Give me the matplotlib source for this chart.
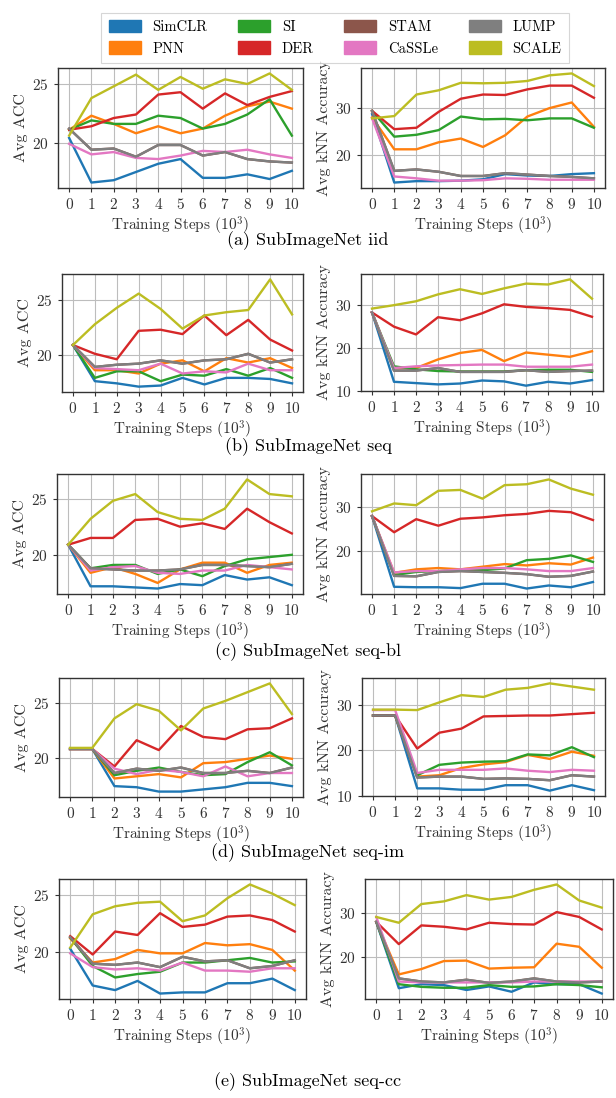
import matplotlib
matplotlib.use("Agg")
import matplotlib.pyplot as plt
from matplotlib.patches import Patch
from matplotlib.ticker import MultipleLocator

plt.rcParams["font.family"] = "serif"
plt.rcParams["font.serif"] = ["cmr10"]
plt.rcParams["mathtext.fontset"] = "cm"
plt.rcParams["axes.unicode_minus"] = False
plt.rcParams["axes.formatter.use_mathtext"] = True

steps = list(range(11))
methods = ["SimCLR", "PNN", "SI", "DER", "STAM", "CaSSLe", "LUMP", "SCALE"]
colors = ["#1f77b4", "#ff7f0e", "#2ca02c", "#d62728",
          "#8c564b", "#e377c2", "#7f7f7f", "#bcbd22"]
captions = ["(a) SubImageNet iid", "(b) SubImageNet seq", "(c) SubImageNet seq-bl",
            "(d) SubImageNet seq-im", "(e) SubImageNet seq-cc"]

# STAM is not visible in the figure (hidden under LUMP), so it reuses LUMP's values
iid_acc = {
    "SimCLR": [20.4, 16.6, 16.8, 17.5, 18.2, 18.6, 17.0, 17.0, 17.3, 16.9, 17.6],
    "PNN":    [21.1, 22.3, 21.6, 20.8, 21.4, 20.8, 21.2, 22.3, 23.1, 23.5, 22.9],
    "SI":     [21.1, 21.9, 21.6, 21.6, 22.3, 22.1, 21.2, 21.6, 22.4, 23.7, 20.6],
    "DER":    [21.1, 21.4, 22.1, 22.4, 24.1, 24.3, 22.9, 24.2, 23.2, 23.9, 24.4],
    "CaSSLe": [19.9, 19.0, 19.2, 18.7, 18.6, 18.9, 19.3, 19.2, 19.4, 19.0, 18.7],
    "LUMP":   [21.2, 19.4, 19.5, 18.8, 19.8, 19.8, 18.9, 19.2, 18.6, 18.4, 18.3],
    "SCALE":  [20.6, 23.8, 24.8, 25.8, 24.5, 25.6, 24.6, 25.4, 25.0, 25.9, 24.5],
}
iid_knn = {
    "SimCLR": [28.7, 14.1, 14.4, 14.4, 14.5, 14.8, 15.9, 15.6, 15.5, 15.9, 16.1],
    "PNN":    [28.0, 21.2, 21.2, 22.7, 23.5, 21.7, 24.2, 28.2, 30.0, 31.2, 26.0],
    "SI":     [29.4, 23.9, 24.3, 25.3, 28.2, 27.6, 27.7, 27.4, 27.8, 27.8, 25.8],
    "DER":    [29.4, 25.5, 25.8, 29.2, 32.0, 32.9, 32.8, 34.0, 34.8, 34.8, 32.2],
    "CaSSLe": [27.8, 15.4, 15.0, 14.5, 14.5, 14.6, 15.0, 14.9, 14.7, 14.7, 14.7],
    "LUMP":   [29.4, 16.6, 16.9, 16.4, 15.5, 15.5, 16.1, 15.8, 15.5, 15.3, 15.0],
    "SCALE":  [27.8, 28.3, 32.9, 33.8, 35.4, 35.3, 35.4, 35.8, 37.0, 37.4, 34.7],
}
seq_acc = {
    "SimCLR": [20.9, 17.6, 17.4, 17.1, 17.2, 17.9, 17.3, 17.9, 17.9, 17.8, 17.4],
    "PNN":    [20.9, 18.6, 18.6, 18.3, 19.2, 19.5, 18.5, 19.7, 19.3, 19.7, 18.8],
    "SI":     [20.9, 17.9, 18.5, 18.5, 17.6, 18.2, 18.1, 18.7, 18.1, 18.8, 17.9],
    "DER":    [20.9, 20.1, 19.6, 22.2, 22.3, 21.9, 23.6, 21.8, 23.2, 21.4, 20.4],
    "CaSSLe": [20.9, 18.8, 18.7, 18.6, 19.2, 18.3, 18.5, 18.4, 19.2, 18.6, 18.6],
    "LUMP":   [20.9, 18.9, 19.1, 19.2, 19.5, 19.2, 19.5, 19.6, 20.1, 19.3, 19.6],
    "SCALE":  [20.9, 22.8, 24.3, 25.6, 24.2, 22.4, 23.6, 23.9, 24.1, 26.9, 23.7],
}
seq_knn = {
    "SimCLR": [28.2, 12.1, 11.8, 11.5, 11.7, 12.4, 12.2, 11.2, 12.1, 11.7, 12.5],
    "PNN":    [28.2, 15.3, 15.3, 17.3, 18.8, 19.5, 16.9, 18.9, 18.4, 17.9, 19.2],
    "SI":     [28.2, 15.7, 15.0, 14.6, 14.5, 14.5, 14.5, 14.8, 14.9, 14.9, 14.4],
    "DER":    [28.2, 24.9, 23.1, 27.1, 26.4, 28.0, 30.1, 29.5, 29.2, 28.8, 27.2],
    "CaSSLe": [28.2, 15.3, 15.7, 15.9, 16.0, 16.1, 16.1, 15.6, 15.6, 15.6, 16.1],
    "LUMP":   [28.2, 14.7, 14.7, 15.3, 14.4, 14.4, 14.4, 14.8, 14.4, 14.6, 14.7],
    "SCALE":  [29.1, 29.9, 30.8, 32.4, 33.6, 32.5, 33.8, 34.9, 34.7, 35.9, 31.4],
}
seqbl_acc = {
    "SimCLR": [20.9, 17.2, 17.2, 17.1, 17.0, 17.4, 17.3, 18.2, 17.8, 18.0, 17.3],
    "PNN":    [20.9, 18.4, 18.9, 18.3, 17.5, 18.7, 19.3, 19.3, 18.4, 19.1, 19.3],
    "SI":     [20.9, 18.8, 19.1, 19.1, 18.3, 18.7, 18.1, 19.0, 19.6, 19.8, 20.0],
    "DER":    [20.9, 21.5, 21.5, 23.1, 23.2, 22.5, 22.8, 22.3, 24.1, 22.9, 21.9],
    "CaSSLe": [20.9, 18.6, 18.9, 19.0, 18.4, 18.3, 18.6, 18.6, 19.1, 18.9, 18.7],
    "LUMP":   [20.9, 18.8, 18.7, 18.6, 18.6, 18.7, 19.1, 19.1, 19.0, 18.9, 19.2],
    "SCALE":  [20.9, 23.2, 24.8, 25.4, 23.8, 23.2, 23.1, 24.1, 26.7, 25.4, 25.2],
}
seqbl_knn = {
    "SimCLR": [27.9, 11.7, 11.6, 11.6, 11.4, 12.4, 12.4, 11.3, 12.0, 11.6, 12.8],
    "PNN":    [27.9, 14.9, 15.7, 16.0, 15.7, 16.3, 16.9, 16.6, 17.1, 16.8, 18.4],
    "SI":     [27.9, 14.4, 15.1, 15.3, 15.5, 15.5, 15.9, 17.8, 18.1, 18.9, 17.4],
    "DER":    [27.9, 24.2, 27.2, 25.7, 27.3, 27.6, 28.1, 28.4, 29.1, 28.8, 27.0],
    "CaSSLe": [27.9, 15.0, 15.3, 15.3, 15.7, 16.0, 16.0, 15.7, 15.3, 15.3, 16.0],
    "LUMP":   [27.9, 14.2, 14.1, 15.1, 15.3, 15.1, 14.9, 14.6, 14.0, 14.2, 15.2],
    "SCALE":  [29.0, 30.8, 30.4, 33.7, 33.9, 31.9, 35.0, 35.2, 36.3, 34.2, 32.8],
}
seqim_acc = {
    "SimCLR": [20.8, 20.8, 17.4, 17.3, 16.9, 16.9, 17.1, 17.3, 17.7, 17.7, 17.4],
    "PNN":    [20.8, 20.8, 18.1, 18.3, 18.5, 18.2, 19.5, 19.6, 19.9, 20.2, 19.9],
    "SI":     [20.8, 20.8, 18.4, 18.8, 19.1, 18.7, 18.4, 18.5, 19.6, 20.5, 19.3],
    "DER":    [20.8, 20.8, 19.2, 21.6, 20.7, 22.9, 21.9, 21.7, 22.6, 22.7, 23.6],
    "CaSSLe": [20.8, 20.8, 19.0, 18.5, 18.9, 18.7, 18.3, 19.2, 18.3, 18.6, 18.6],
    "LUMP":   [20.8, 20.8, 18.6, 19.0, 18.8, 19.1, 18.6, 18.6, 18.8, 18.6, 19.1],
    "SCALE":  [20.9, 20.9, 23.6, 24.9, 24.3, 22.5, 24.5, 25.2, 26.0, 26.8, 24.0],
}
seqim_knn = {
    "SimCLR": [27.7, 27.7, 11.6, 11.6, 11.3, 11.3, 12.3, 12.3, 11.1, 12.3, 11.2],
    "PNN":    [27.7, 27.7, 14.2, 14.5, 16.1, 16.9, 17.4, 19.0, 18.1, 19.7, 18.8],
    "SI":     [27.7, 27.7, 14.5, 16.8, 17.3, 17.5, 17.6, 19.1, 18.9, 20.7, 18.5],
    "DER":    [27.7, 27.7, 20.4, 23.9, 24.8, 27.5, 27.6, 27.7, 27.7, 28.0, 28.3],
    "CaSSLe": [28.9, 28.9, 15.0, 15.7, 15.7, 15.7, 16.0, 15.5, 15.2, 15.7, 15.5],
    "LUMP":   [27.7, 27.7, 14.0, 14.2, 14.2, 13.7, 13.8, 13.7, 13.4, 14.5, 14.2],
    "SCALE":  [29.0, 29.0, 28.9, 30.6, 32.2, 31.8, 33.4, 33.8, 34.8, 34.1, 33.4],
}
seqcc_acc = {
    "SimCLR": [20.3, 17.1, 16.7, 17.5, 16.4, 16.5, 16.5, 17.3, 17.3, 17.7, 16.7],
    "PNN":    [21.2, 19.1, 19.4, 20.2, 19.9, 19.9, 20.8, 20.6, 20.7, 20.2, 18.4],
    "SI":     [21.3, 18.8, 17.8, 18.1, 18.3, 19.1, 19.1, 19.3, 19.5, 19.1, 19.2],
    "DER":    [21.4, 19.8, 21.8, 21.5, 23.4, 22.2, 22.4, 23.1, 23.2, 22.8, 21.8],
    "CaSSLe": [19.9, 18.7, 18.5, 18.6, 18.4, 19.1, 18.4, 18.4, 18.3, 18.6, 18.6],
    "LUMP":   [21.3, 19.0, 18.9, 19.1, 18.7, 19.6, 19.2, 19.3, 18.6, 18.8, 19.3],
    "SCALE":  [20.4, 23.3, 24.0, 24.3, 24.4, 22.7, 23.2, 24.7, 25.9, 25.1, 24.1],
}
seqcc_knn = {
    "SimCLR": [28.0, 13.1, 14.0, 13.8, 12.7, 13.5, 12.3, 14.4, 14.0, 14.0, 11.9],
    "PNN":    [28.0, 16.2, 17.4, 19.2, 19.3, 17.5, 17.7, 17.8, 23.1, 22.4, 17.7],
    "SI":     [28.0, 14.0, 13.4, 13.2, 13.2, 13.8, 13.4, 13.5, 14.0, 13.8, 13.3],
    "DER":    [28.0, 23.0, 27.2, 26.9, 26.3, 27.8, 27.5, 27.4, 30.2, 29.1, 26.3],
    "CaSSLe": [29.1, 14.6, 14.4, 14.4, 14.4, 14.4, 14.4, 14.6, 14.6, 14.6, 14.6],
    "LUMP":   [28.0, 15.3, 14.6, 14.4, 15.0, 14.3, 14.6, 15.3, 14.6, 14.4, 14.6],
    "SCALE":  [29.1, 27.8, 32.0, 32.6, 34.0, 33.0, 33.6, 35.2, 36.4, 32.8, 31.2],
}

panels = [(iid_acc, iid_knn), (seq_acc, seq_knn), (seqbl_acc, seqbl_knn),
          (seqim_acc, seqim_knn), (seqcc_acc, seqcc_knn)]

W, H = 616, 1098
# axes boxes in pixels: (left, top, right, bottom)
left_boxes = [(58, 68, 303, 188), (62, 274, 303, 392), (57, 474, 303, 594),
              (59, 678, 303, 797), (59, 879, 306, 999)]
right_boxes = [(361, 68, 605, 188), (361, 274, 603, 391), (361, 474, 604, 594),
               (362, 678, 605, 796), (365, 879, 613, 999)]
caption_y = [241, 447, 652, 853, 1082]


def to_rect(box):
    x0, y0, x1, y1 = box
    return [x0 / W, 1 - y1 / H, (x1 - x0) / W, (y1 - y0) / H]


def draw_panel(ax, data, ylabel, step):
    for name, col in zip(methods, colors):
        vals = data.get(name, data["LUMP"])
        ax.plot(steps, vals, color=col, lw=1.7, zorder=3)
    ax.set_xticks(steps)
    ax.yaxis.set_major_locator(MultipleLocator(step))
    ax.grid(True, color="#bdbdbd", lw=0.8, zorder=0)
    ax.set_axisbelow(True)
    for sp in ax.spines.values():
        sp.set_color("#333333")
        sp.set_linewidth(1.0)
    ax.tick_params(labelsize=11, colors="#333333", length=3, width=0.8)
    ax.set_xlabel(r"Training Steps ($10^3$)", fontsize=11, color="#333333", labelpad=2)
    ax.set_ylabel(ylabel, fontsize=11.5, color="#333333", labelpad=3)


fig = plt.figure(figsize=(W / 100, H / 100), dpi=100)

for i, (acc, knn) in enumerate(panels):
    axl = fig.add_axes(to_rect(left_boxes[i]))
    draw_panel(axl, acc, "Avg ACC", 5)
    axr = fig.add_axes(to_rect(right_boxes[i]))
    draw_panel(axr, knn, "Avg kNN Accuracy", 10)
    fig.text(0.5, 1 - caption_y[i] / H, captions[i], ha="center", va="center",
             fontsize=13, color="black")

handles = [Patch(facecolor=c, edgecolor=c, label=m) for m, c in zip(methods, colors)]
leg = fig.legend(handles=handles, ncol=4, loc="upper center",
                 bbox_to_anchor=(0.544, 0.995), fontsize=10.5, frameon=True,
                 fancybox=False, handlelength=2.2, handleheight=0.9,
                 columnspacing=2.1, borderpad=0.5, labelspacing=0.5)
leg.get_frame().set_edgecolor("#cccccc")
leg.get_frame().set_linewidth(0.8)

fig.savefig("out.png", dpi=100)
